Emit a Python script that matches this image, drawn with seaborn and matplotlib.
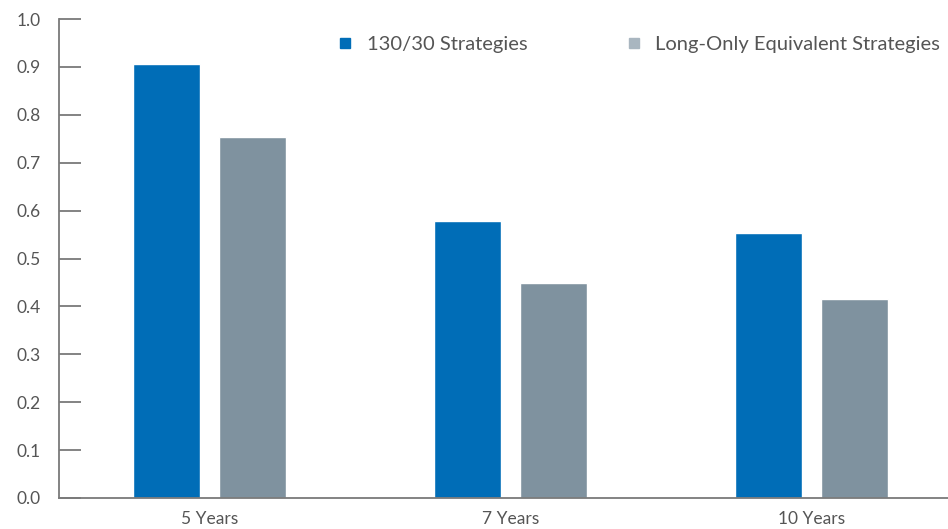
import matplotlib
matplotlib.use("Agg")
import matplotlib.pyplot as plt
from matplotlib.lines import Line2D
import seaborn as sns
import pandas as pd

periods = ["5 Years", "7 Years", "10 Years"]
series_names = ["130/30 Strategies", "Long-Only Equivalent Strategies"]
values_130_30 = [0.906, 0.579, 0.554]
values_long_only = [0.753, 0.448, 0.416]
y_ticks = [0.0, 0.1, 0.2, 0.3, 0.4, 0.5, 0.6, 0.7, 0.8, 0.9, 1.0]

bar_colors = ["#006DB7", "#7F929F"]
legend_colors = ["#006DB7", "#A9B6C0"]
text_color = "#555555"
axis_color = "#7A7A7A"

df = pd.DataFrame({
    "Period": periods * 2,
    "Series": [series_names[0]] * 3 + [series_names[1]] * 3,
    "Value": values_130_30 + values_long_only,
})

sns.set_theme(style="white")
plt.rcParams["font.family"] = ["Lato", "DejaVu Sans"]

fig = plt.figure(figsize=(9.48, 5.29), dpi=100)
ax = fig.add_axes([59 / 948, 31 / 529, 1 - 59 / 948, (498 - 19) / 529])

sns.barplot(data=df, x="Period", y="Value", hue="Series", order=periods,
            hue_order=series_names, palette=bar_colors, width=0.5714,
            gap=0.221, saturation=1, legend=False, ax=ax, errorbar=None)

ax.set_xlim(-0.5, 2.453)
ax.set_ylim(0, 1.0)
ax.set_yticks(y_ticks)
ax.set_yticklabels([f"{v:.1f}" for v in y_ticks])
ax.set_xlabel("")
ax.set_ylabel("")

for side in ["top", "right"]:
    ax.spines[side].set_visible(False)
for side in ["left", "bottom"]:
    ax.spines[side].set_color(axis_color)
    ax.spines[side].set_linewidth(1.3)

ax.tick_params(axis="y", direction="in", length=16, width=1.3, color=axis_color,
               labelcolor=text_color, labelsize=12.5, pad=13, left=True)
ax.tick_params(axis="x", length=0, labelcolor=text_color, labelsize=12.5, pad=9)

handles = [Line2D([0], [0], marker="s", linestyle="none", markersize=7.5,
                  markerfacecolor=c, markeredgecolor=c) for c in legend_colors]
leg = ax.legend(handles, series_names, ncol=2, frameon=False,
                loc="center right", bbox_to_anchor=(1.0, (498 - 44) / 479),
                handlelength=0.6, handletextpad=0.75, columnspacing=5.0,
                fontsize=14.5, borderaxespad=0.0)
for t in leg.get_texts():
    t.set_color(text_color)

fig.savefig("out.png", dpi=100)
